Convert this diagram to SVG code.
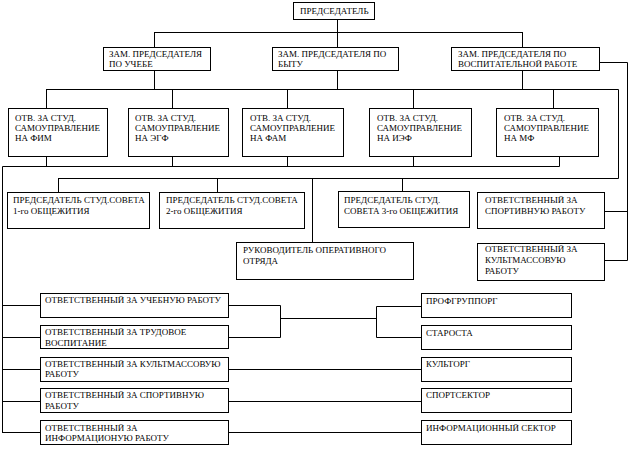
<svg xmlns="http://www.w3.org/2000/svg" width="630" height="455" viewBox="0 0 630 455">
<style>
rect{fill:#fff;stroke:#000;stroke-width:1}
text{font-family:"Liberation Serif","Times New Roman",serif;font-size:9px;fill:#000}
.c path{fill:none;stroke:#000;stroke-width:1}
</style>
<rect x="0" y="0" width="630" height="455" style="stroke:none"/>
<g class="c" id="connectors">
<path d="M337.5,19 V47 M154.5,32.5 H522.5 M154.5,32 V47 M522.5,32 V47"/>
<path d="M599,62.5 H627.5 V260.5 H604 M604,211.5 H627.5"/>
<path d="M154.5,70 V89 M337.5,70 V89 M522.5,70 V89 M46.5,89.5 H618.5 V178.5 H58.5"/>
<path d="M46.5,89 V108 M172.5,89 V108 M287.5,89 V108 M413.5,89 V108 M553.5,89 V108"/>
<path d="M46.5,156 V166 M172.5,156 V166 M287.5,156 V166 M413.5,156 V166 M559.5,156 V166.5 H2.5 V432.5"/>
<path d="M2,305.5 H40 M2,337.5 H40 M2,369.5 H40 M2,401.5 H40 M2,432.5 H40"/>
<path d="M58.5,178 V192 M217.5,178 V192 M312.5,178 V242 M402.5,178 V191"/>
<path d="M228,305.5 H280.5 V337.5 H228 M280,318.5 H376.5 M421,306.5 H376.5 V337.5 H421"/>
<path d="M228,369.5 H421 M228,401.5 H421 M228,432.5 H421"/>
</g>
<g id="n-pred"><rect x="293.5" y="2.5" width="81" height="17"/><text x="300" y="14">ПРЕДСЕДАТЕЛЬ</text></g>
<g id="n-zam1"><rect x="103.5" y="47.5" width="107" height="23"/><text x="109" y="57">ЗАМ. ПРЕДСЕДАТЕЛЯ</text><text x="109" y="67">ПО УЧЕБЕ</text></g>
<g id="n-zam2"><rect x="272.5" y="47.5" width="126" height="23"/><text x="278" y="57">ЗАМ. ПРЕДСЕДАТЕЛЯ ПО</text><text x="278" y="67">БЫТУ</text></g>
<g id="n-zam3"><rect x="451.5" y="47.5" width="148" height="23"/><text x="458" y="57">ЗАМ. ПРЕДСЕДАТЕЛЯ ПО</text><text x="458" y="67">ВОСПИТАТЕЛЬНОЙ РАБОТЕ</text></g>
<g id="n-otv1"><rect x="8.5" y="108.5" width="99" height="48"/><text x="15" y="121">ОТВ. ЗА СТУД.</text><text x="15" y="131">САМОУПРАВЛЕНИЕ</text><text x="15" y="141">НА  ФИМ</text></g>
<g id="n-otv2"><rect x="128.5" y="108.5" width="100" height="48"/><text x="135" y="121">ОТВ. ЗА СТУД.</text><text x="135" y="131">САМОУПРАВЛЕНИЕ</text><text x="135" y="141">НА ЭГФ</text></g>
<g id="n-otv3"><rect x="242.5" y="108.5" width="101" height="48"/><text x="250" y="121">ОТВ. ЗА СТУД.</text><text x="250" y="131">САМОУПРАВЛЕНИЕ</text><text x="250" y="141">НА ФАМ</text></g>
<g id="n-otv4"><rect x="369.5" y="108.5" width="102" height="48"/><text x="377" y="121">ОТВ. ЗА СТУД.</text><text x="377" y="131">САМОУПРАВЛЕНИЕ</text><text x="377" y="141">НА ИЭФ</text></g>
<g id="n-otv5"><rect x="496.5" y="108.5" width="102" height="48"/><text x="504" y="121">ОТВ. ЗА СТУД.</text><text x="504" y="131">САМОУПРАВЛЕНИЕ</text><text x="504" y="141">НА МФ</text></g>
<g id="n-ps1"><rect x="7.5" y="192.5" width="142" height="36"/><text x="13" y="203">ПРЕДСЕДАТЕЛЬ СТУД.СОВЕТА</text><text x="13" y="214">1-го ОБЩЕЖИТИЯ</text></g>
<g id="n-ps2"><rect x="159.5" y="192.5" width="145" height="36"/><text x="166" y="203">ПРЕДСЕДАТЕЛЬ СТУД.СОВЕТА</text><text x="166" y="214">2-го ОБЩЕЖИТИЯ</text></g>
<g id="n-ps3"><rect x="338.5" y="191.5" width="131" height="36"/><text x="344" y="203">ПРЕДСЕДАТЕЛЬ СТУД.</text><text x="344" y="214">СОВЕТА 3-го ОБЩЕЖИТИЯ</text></g>
<g id="n-ruk"><rect x="236.5" y="242.5" width="177" height="37"/><text x="243" y="253">РУКОВОДИТЕЛЬ ОПЕРАТИВНОГО</text><text x="243" y="264">ОТРЯДА</text></g>
<g id="n-sport"><rect x="477.5" y="192.5" width="127" height="36"/><text x="485" y="203">ОТВЕТСТВЕННЫЙ ЗА</text><text x="485" y="214">СПОРТИВНУЮ РАБОТУ</text></g>
<g id="n-kult"><rect x="477.5" y="243.5" width="127" height="37"/><text x="485" y="252">ОТВЕТСТВЕННЫЙ ЗА</text><text x="485" y="263">КУЛЬТМАССОВУЮ</text><text x="485" y="274">РАБОТУ</text></g>
<g id="n-a"><rect x="40.5" y="293.5" width="188" height="24"/><text x="45" y="303">ОТВЕТСТВЕННЫЙ ЗА УЧЕБНУЮ РАБОТУ</text></g>
<g id="n-b"><rect x="40.5" y="325.5" width="188" height="23"/><text x="45" y="335">ОТВЕТСТВЕННЫЙ ЗА ТРУДОВОЕ</text><text x="45" y="346">ВОСПИТАНИЕ</text></g>
<g id="n-c"><rect x="40.5" y="357.5" width="188" height="24"/><text x="45" y="367">ОТВЕТСТВЕННЫЙ ЗА КУЛЬТМАССОВУЮ</text><text x="45" y="377">РАБОТУ</text></g>
<g id="n-d"><rect x="40.5" y="388.5" width="188" height="24"/><text x="45" y="398">ОТВЕТСТВЕННЫЙ ЗА СПОРТИВНУЮ</text><text x="45" y="409">РАБОТУ</text></g>
<g id="n-e"><rect x="40.5" y="420.5" width="188" height="24"/><text x="45" y="431">ОТВЕТСТВЕННЫЙ ЗА</text><text x="45" y="441">ИНФОРМАЦИОНУЮ РАБОТУ</text></g>
<g id="n-prof"><rect x="421.5" y="293.5" width="150" height="24"/><text x="426" y="304">ПРОФГРУППОРГ</text></g>
<g id="n-star"><rect x="421.5" y="325.5" width="150" height="24"/><text x="426" y="336">СТАРОСТА</text></g>
<g id="n-kultorg"><rect x="421.5" y="357.5" width="150" height="24"/><text x="426" y="367">КУЛЬТОРГ</text></g>
<g id="n-spsek"><rect x="421.5" y="388.5" width="150" height="24"/><text x="426" y="398">СПОРТСЕКТОР</text></g>
<g id="n-inf"><rect x="421.5" y="420.5" width="150" height="24"/><text x="426" y="431">ИНФОРМАЦИОННЫЙ СЕКТОР</text></g>
</svg>
